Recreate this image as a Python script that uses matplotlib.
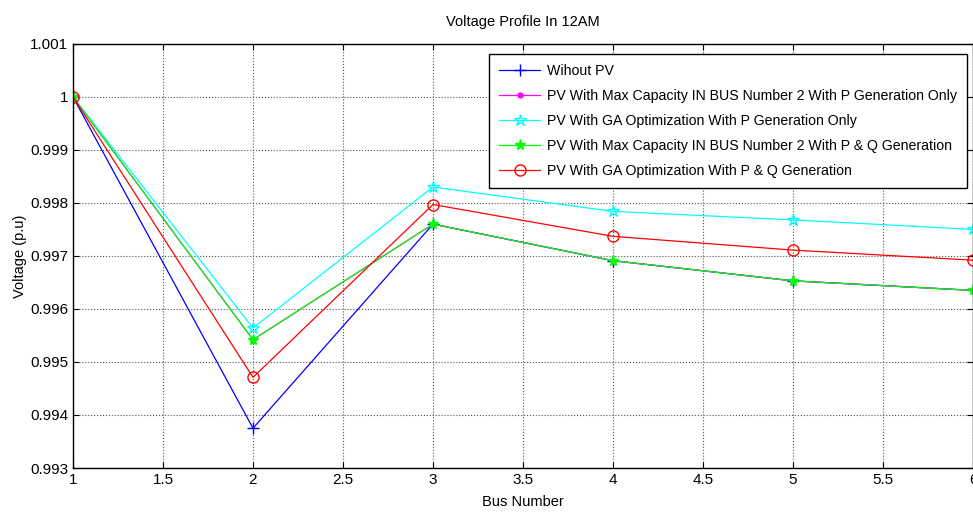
import matplotlib
matplotlib.use("Agg")
import matplotlib.pyplot as plt

bus = [1, 2, 3, 4, 5, 6]
without_pv = [1.0, 0.99375, 0.99760, 0.99691, 0.99653, 0.99635]
max_cap_p = [1.0, 0.99542, 0.99760, 0.99691, 0.99653, 0.99635]
ga_p = [1.0, 0.99564, 0.99830, 0.99784, 0.99768, 0.99750]
max_cap_pq = [1.0, 0.99542, 0.99760, 0.99691, 0.99653, 0.99635]
ga_pq = [1.0, 0.99471, 0.99797, 0.99737, 0.99711, 0.99692]

labels = [
    "Wihout PV",
    "PV With Max Capacity IN BUS Number 2 With P Generation Only",
    "PV With GA Optimization With P Generation Only",
    "PV With Max Capacity IN BUS Number 2 With P & Q Generation",
    "PV With GA Optimization With P & Q Generation",
]
xticks = [1, 1.5, 2, 2.5, 3, 3.5, 4, 4.5, 5, 5.5, 6]
xticklabels = ["1", "1.5", "2", "2.5", "3", "3.5", "4", "4.5", "5", "5.5", "6"]
yticks = [0.993, 0.994, 0.995, 0.996, 0.997, 0.998, 0.999, 1.0, 1.001]
yticklabels = ["0.993", "0.994", "0.995", "0.996", "0.997", "0.998", "0.999", "1", "1.001"]

plt.rcParams['font.family'] = ['Liberation Sans', 'DejaVu Sans']

fig = plt.figure(figsize=(9.73, 5.16), dpi=100)
ax = fig.add_axes([0.075, 0.093, 0.925, 0.822])

ax.plot(bus, without_pv, color="#0000ff", marker="+", markersize=8, lw=0.9, label=labels[0])
ax.plot(bus, max_cap_p, color="#ff00ff", marker=".", markersize=7, lw=0.9, label=labels[1])
ax.plot(bus, ga_p, color="#00ffff", marker="*", markersize=9, markerfacecolor="none", lw=0.9, label=labels[2])
ax.plot(bus, max_cap_pq, color="#00ff00", marker="*", markersize=8, lw=0.9, label=labels[3])
ax.plot(bus, ga_pq, color="#ff0000", marker="o", markersize=8, markerfacecolor="none", lw=0.9, label=labels[4])

ax.set_xlim(1, 6)
ax.set_ylim(0.993, 1.001)
ax.set_xticks(xticks)
ax.set_xticklabels(xticklabels)
ax.set_yticks(yticks)
ax.set_yticklabels(yticklabels)
ax.tick_params(direction="in", top=True, right=True, labelsize=11, length=4, color="black")
ax.grid(True, linestyle=":", color="#555555", linewidth=0.8)
for s in ax.spines.values():
    s.set_linewidth(1.0)

ax.set_title("Voltage Profile In 12AM", fontsize=10.5, pad=13)
ax.set_xlabel("Bus Number", fontsize=10.5, labelpad=6)
ax.set_ylabel("Voltage (p.u)", fontsize=10.5, labelpad=2)

leg = ax.legend(loc="upper right", bbox_to_anchor=(0.993, 0.976), borderaxespad=0,
                fontsize=10.2, fancybox=False, framealpha=1, edgecolor="black",
                handlelength=2.9, borderpad=0.7, labelspacing=0.78, handletextpad=0.45)
leg.get_frame().set_linewidth(1.0)

fig.savefig("out.png", dpi=100)
